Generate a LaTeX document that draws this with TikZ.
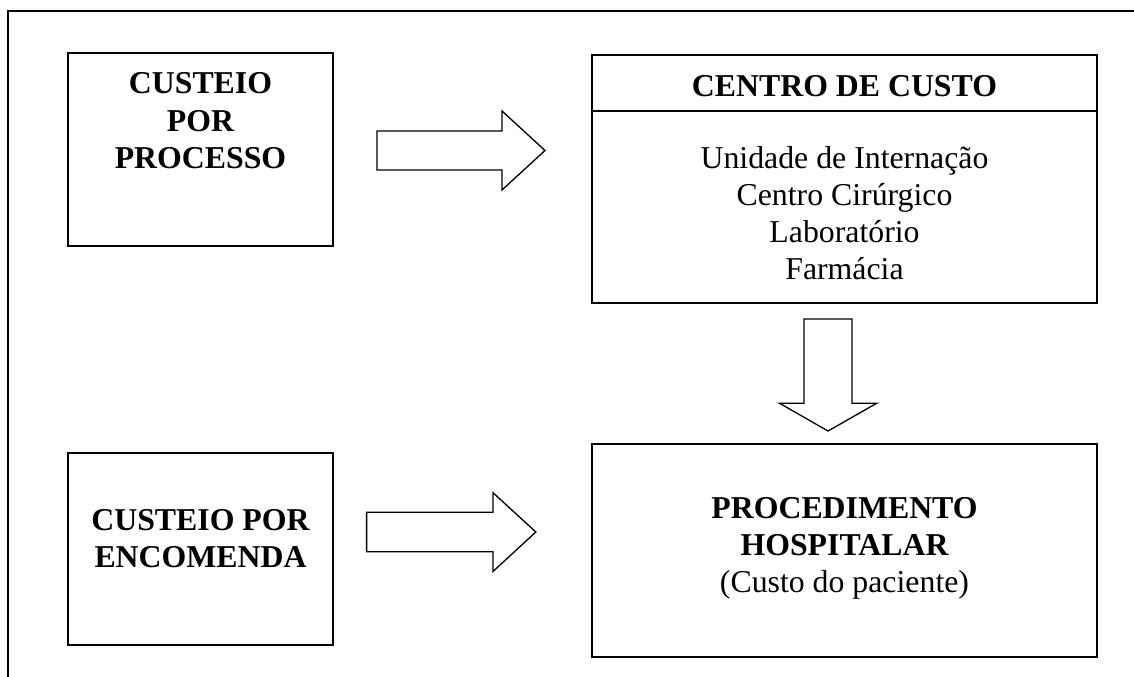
\documentclass[tikz,border=0pt]{standalone}
\usepackage{fontspec}
\setmainfont{Liberation Serif}
\usetikzlibrary{fit}
\begin{document}
\begin{tikzpicture}[x=0.75pt,y=-0.75pt,
  box/.style={draw, line width=1.5pt, inner sep=0pt},
  blockarrow/.style={draw, line width=1pt, line join=miter},
  lbl/.style={font=\fontsize{23.85}{27.9}\selectfont, align=center, inner sep=0pt, anchor=base},
  frameline/.style={line width=1.5pt}]
\useasboundingbox (0,0) rectangle (1134,677);
% outer frame (top and left only)
\draw[frameline] (8,677) |- (1134,10.7);
% boxes
\node[box, fit={(68,53) (333,246)}] (b1) {};
\node[box, fit={(68,453) (333,645)}] (b2) {};
\node[box, fit={(592,55) (1097,303)}] (cc) {};
\node[box, fit={(592,443.5) (1097,657)}] (ph) {};
\draw[line width=1.5pt] (cc.west |- {(0,111)}) -- (cc.east |- {(0,111)});
% texts (base anchor = baseline of the last line)
\node[lbl] (t1) at (200.5,168.3) {\bfseries CUSTEIO\\\bfseries POR\\\bfseries PROCESSO};
\node[lbl] (t2) at (200.5,567.2) {\bfseries CUSTEIO POR\\\bfseries ENCOMENDA};
\node[lbl] (tcc) at (844.5,96.7) {\bfseries CENTRO DE CUSTO};
\node[lbl] (tlist) at (844.5,279.9) {Unidade de Internação\\Centro Cirúrgico\\Laboratório\\Farmácia};
\node[lbl] (tph) at (844.5,592.5) {\bfseries PROCEDIMENTO\\\bfseries HOSPITALAR\\(Custo do paciente)};
% block arrows
\draw[blockarrow] (377,131) -- (502,131) -- (502,111) -- (545,150.5) -- (502,190) -- (502,170) -- (377,170) -- cycle;
\draw[blockarrow] (366.6,512.3) -- (493,512.3) -- (493,492.7) -- (535.8,532) -- (493,571.5) -- (493,551.7) -- (366.6,551.7) -- cycle;
\draw[blockarrow] (804,319) -- (852,319) -- (852,403.3) -- (876.6,403.3) -- (828,431) -- (779.6,403.3) -- (804,403.3) -- cycle;
\end{tikzpicture}
\end{document}
